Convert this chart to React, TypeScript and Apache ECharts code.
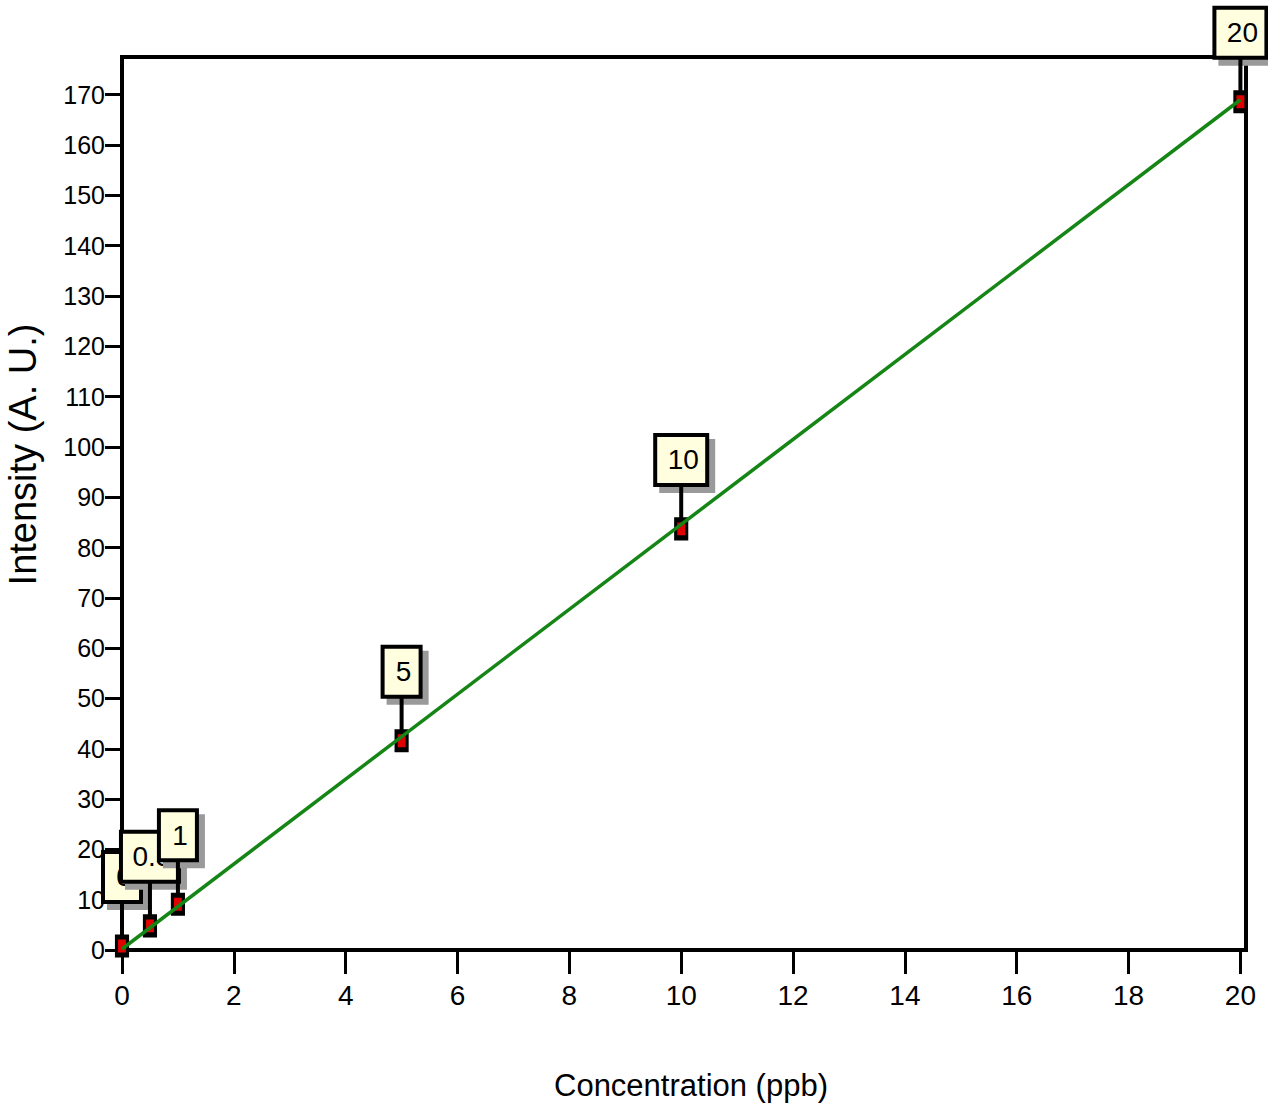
import React, { useEffect, useRef } from "react";
import * as echarts from "echarts";

const concentrations = [0, 0.5, 1, 5, 10, 20];
const intensities = [0.8, 4.8, 9.1, 41.6, 83.7, 168.6];
const pointLabels = ["0", "0.5", "1", "5", "10", "20"];
const fitX = [0, 20];
const fitY = [0.2, 169.0];
const xTicks = [0, 2, 4, 6, 8, 10, 12, 14, 16, 18, 20];
const yTicks = [0, 10, 20, 30, 40, 50, 60, 70, 80, 90, 100, 110, 120, 130, 140, 150, 160, 170];
const xAxisName = "Concentration (ppb)";
const yAxisName = "Intensity (A. U.)";

const SANS = '"Liberation Sans", Arial, sans-serif';

export default function App() {
  const ref = useRef<HTMLDivElement>(null);
  useEffect(() => {
    if (!ref.current) return;
    const chart = echarts.init(ref.current, undefined, { renderer: "svg" });
    const points = concentrations.map((c, i) => [c, intensities[i]]);
    const fit = fitX.map((x, i) => [x, fitY[i]]);
    chart.setOption({
      animation: false,
      backgroundColor: "#fff",
      grid: {
        left: 122,
        right: 22,
        top: 57,
        bottom: 163,
        show: true,
        borderColor: "#000",
        borderWidth: 4,
        containLabel: false,
        outerBoundsMode: "none",
      },
      xAxis: {
        type: "value",
        min: 0,
        max: 20.1,
        name: xAxisName,
        nameLocation: "middle",
        nameGap: 120,
        nameTextStyle: { fontFamily: SANS, fontSize: 31, color: "#000", padding: [0, 0, 0, 14] },
        axisLine: { show: true, lineStyle: { color: "#000", width: 4 } },
        axisTick: { show: true, length: 24, lineStyle: { color: "#000", width: 3 }, customValues: xTicks },
        axisLabel: { fontFamily: SANS, fontSize: 28, color: "#000", margin: 31, customValues: xTicks },
        splitLine: { show: false },
      },
      yAxis: {
        type: "value",
        min: 0,
        max: 177.5,
        name: yAxisName,
        nameLocation: "middle",
        nameGap: 80,
        nameRotate: 90,
        nameTextStyle: { fontFamily: SANS, fontSize: 38, color: "#000", padding: [0, 0, 0, 98] },
        axisLine: { show: true, lineStyle: { color: "#000", width: 4 } },
        axisTick: { show: true, length: 17, lineStyle: { color: "#000", width: 3 }, customValues: yTicks },
        axisLabel: { fontFamily: SANS, fontSize: 25, color: "#000", margin: 17, customValues: yTicks },
        splitLine: { show: false },
      },
      series: [
        {
          type: "scatter",
          data: points,
          symbol: "rect",
          symbolSize: [11, 18],
          itemStyle: { color: "#e00000", borderColor: "#000", borderWidth: 4, opacity: 1 },
          z: 2,
        },
        {
          type: "line",
          data: fit,
          symbol: "none",
          lineStyle: { color: "#158515", width: 3.5 },
          z: 3,
        },
        {
          type: "custom",
          data: points,
          z: 4,
          clip: false,
          renderItem: (params: any, api: any) => {
            const idx = params.dataIndex;
            const [px, py] = api.coord([api.value(0), api.value(1)]);
            const text = pointLabels[idx];
            const w = 24 + text.split("").reduce((s: number, c: string) => s + (c === "." ? 6 : 14), 0);
            const h = 50;
            const bottom = py - 44;
            const top = bottom - h;
            const left = px - w / 2;
            return {
              type: "group",
              children: [
                { type: "rect", shape: { x: left + 4, y: top + 4, width: w + 4, height: h + 4 }, style: { fill: "#9a9a9a" } },
                { type: "line", shape: { x1: px, y1: py - 10, x2: px, y2: bottom }, style: { stroke: "#000", lineWidth: 4 } },
                { type: "rect", shape: { x: left, y: top, width: w, height: h }, style: { fill: "#ffffe0", stroke: "#000", lineWidth: 4 } },
                {
                  type: "text",
                  x: px + 2,
                  y: top + h / 2,
                  style: { text, fill: "#000", fontSize: 28, fontFamily: SANS, align: "center", verticalAlign: "middle" },
                },
              ],
            };
          },
        },
      ],
    });
    return () => chart.dispose();
  }, []);
  return (
    <div
      ref={ref}
      style={{ position: "fixed", left: 0, top: 0, width: 1268, height: 1113, background: "#fff" }}
    />
  );
}
